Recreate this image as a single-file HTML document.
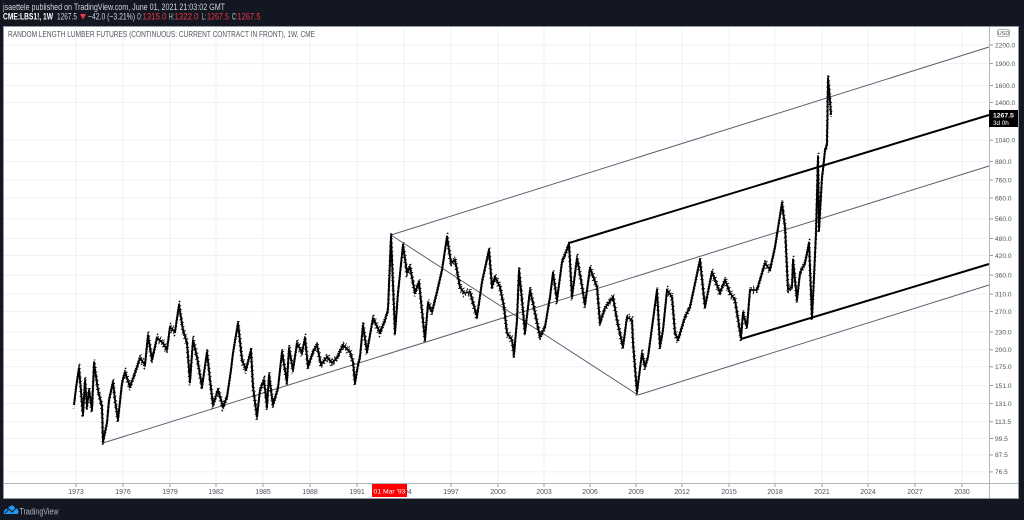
<!DOCTYPE html>
<html><head><meta charset="utf-8"><style>
html,body{margin:0;padding:0;background:#131722;}
svg{display:block;}
text{font-family:"Liberation Sans",sans-serif;}
</style></head><body>
<svg width="1024" height="520" viewBox="0 0 1024 520" xmlns="http://www.w3.org/2000/svg" xmlns:xlink="http://www.w3.org/1999/xlink">
<rect x="0" y="0" width="1024" height="520" fill="#131722"/>
<!-- header -->
<text x="3" y="10" font-size="9" fill="#d1d4dc" textLength="222" lengthAdjust="spacingAndGlyphs">jsaettele published on TradingView.com, June 01, 2021 21:03:02 GMT</text>
<text x="3" y="19.5" font-size="9" font-weight="bold" fill="#ffffff" textLength="50" lengthAdjust="spacingAndGlyphs">CME:LBS1!, 1W</text>
<text x="57" y="19.5" font-size="9" fill="#d1d4dc" textLength="20" lengthAdjust="spacingAndGlyphs">1267.5</text>
<polygon points="80,14 86,14 83,19.5" fill="#f23645"/>
<text x="88" y="19.5" font-size="9" fill="#d1d4dc" textLength="47" lengthAdjust="spacingAndGlyphs">−42.0 (−3.21%)</text>
<text x="137" y="19.5" font-size="9" fill="#d1d4dc" textLength="5" lengthAdjust="spacingAndGlyphs">O:</text>
<text x="142.5" y="19.5" font-size="9" fill="#f23645" textLength="24" lengthAdjust="spacingAndGlyphs">1315.0</text>
<text x="169" y="19.5" font-size="9" fill="#d1d4dc" textLength="5" lengthAdjust="spacingAndGlyphs">H:</text>
<text x="174.5" y="19.5" font-size="9" fill="#f23645" textLength="24" lengthAdjust="spacingAndGlyphs">1322.0</text>
<text x="202" y="19.5" font-size="9" fill="#d1d4dc" textLength="4" lengthAdjust="spacingAndGlyphs">L:</text>
<text x="207" y="19.5" font-size="9" fill="#f23645" textLength="22" lengthAdjust="spacingAndGlyphs">1267.5</text>
<text x="232" y="19.5" font-size="9" fill="#d1d4dc" textLength="5" lengthAdjust="spacingAndGlyphs">C:</text>
<text x="237.5" y="19.5" font-size="9" fill="#f23645" textLength="23" lengthAdjust="spacingAndGlyphs">1267.5</text>

<!-- panel -->
<rect x="3.5" y="26.5" width="1015" height="472" fill="#ffffff" stroke="#9598a1" stroke-width="1"/>

<!-- grid -->
<g stroke="#eef1f7" stroke-width="1">
<line x1="76" y1="27" x2="76" y2="483"/><line x1="123" y1="27" x2="123" y2="483"/><line x1="170" y1="27" x2="170" y2="483"/><line x1="216" y1="27" x2="216" y2="483"/><line x1="263" y1="27" x2="263" y2="483"/><line x1="310" y1="27" x2="310" y2="483"/><line x1="357" y1="27" x2="357" y2="483"/><line x1="404" y1="27" x2="404" y2="483"/><line x1="451" y1="27" x2="451" y2="483"/><line x1="498" y1="27" x2="498" y2="483"/><line x1="544" y1="27" x2="544" y2="483"/><line x1="590" y1="27" x2="590" y2="483"/><line x1="636" y1="27" x2="636" y2="483"/><line x1="682" y1="27" x2="682" y2="483"/><line x1="729" y1="27" x2="729" y2="483"/><line x1="775" y1="27" x2="775" y2="483"/><line x1="822" y1="27" x2="822" y2="483"/><line x1="868" y1="27" x2="868" y2="483"/><line x1="915" y1="27" x2="915" y2="483"/><line x1="962" y1="27" x2="962" y2="483"/>
<line x1="4" y1="45" x2="989" y2="45"/><line x1="4" y1="63.6" x2="989" y2="63.6"/><line x1="4" y1="85.5" x2="989" y2="85.5"/><line x1="4" y1="102.5" x2="989" y2="102.5"/><line x1="4" y1="140.2" x2="989" y2="140.2"/><line x1="4" y1="161.5" x2="989" y2="161.5"/><line x1="4" y1="180.1" x2="989" y2="180.1"/><line x1="4" y1="198" x2="989" y2="198"/><line x1="4" y1="218.9" x2="989" y2="218.9"/><line x1="4" y1="238.5" x2="989" y2="238.5"/><line x1="4" y1="255.5" x2="989" y2="255.5"/><line x1="4" y1="275.1" x2="989" y2="275.1"/><line x1="4" y1="294.1" x2="989" y2="294.1"/><line x1="4" y1="311.6" x2="989" y2="311.6"/><line x1="4" y1="332" x2="989" y2="332"/><line x1="4" y1="349.8" x2="989" y2="349.8"/><line x1="4" y1="366.8" x2="989" y2="366.8"/><line x1="4" y1="385.5" x2="989" y2="385.5"/><line x1="4" y1="403.6" x2="989" y2="403.6"/><line x1="4" y1="421.8" x2="989" y2="421.8"/><line x1="4" y1="438.5" x2="989" y2="438.5"/><line x1="4" y1="454.9" x2="989" y2="454.9"/><line x1="4" y1="471.9" x2="989" y2="471.9"/>
</g>

<!-- title -->
<text x="8" y="37" font-size="8" fill="#50535e" textLength="307" lengthAdjust="spacingAndGlyphs">RANDOM LENGTH LUMBER FUTURES (CONTINUOUS: CURRENT CONTRACT IN FRONT), 1W, CME</text>

<!-- trend lines thin -->
<g stroke="#5d606b" stroke-width="1" fill="none">
<line x1="103" y1="443" x2="989" y2="166"/>
<line x1="391" y1="235" x2="989" y2="47"/>
<line x1="391" y1="235" x2="638" y2="395"/>
<line x1="638" y1="395" x2="989" y2="285"/>
</g>

<!-- price series -->
<g fill="none" stroke="#000" stroke-linejoin="round">
<polyline id="ps" stroke-width="1.8" points="74,405 76,388 79,368 83,415 85,380 87,407 89,390 92,410 94,363 98,390 102,407 103,442 107,423 109,400 113,382 115,400 118,420 122,383 125,372 130,387 135,373 140,358 145,365 148,335 152,360 157,338 163,343 167,350 170,327 175,332 179,305 183,330 187,343 190,382 193,340 197,357 202,387 207,352 210,380 213,405 218,390 223,407 227,397 231,370 233,353 238,323 242,360 246,370 251,350 253,387 257,417 260,390 264,380 267,407 269,375 273,405 278,388 282,352 287,382 289,348 293,370 297,343 302,353 305,338 308,367 313,352 317,345 321,365 327,357 332,363 337,358 343,345 350,352 353,362 355,383 358,365 360,357 363,325 367,352 373,318 380,333 385,320 388,310 391,236 395,333 398,293 403,245 407,273 410,267 415,293 419,282 425,340 428,303 432,312 437,292 442,270 447,237 451,263 455,260 460,287 464,293 470,292 477,317 482,282 489,250 492,287 495,277 500,287 504,307 507,333 512,340 514,355 517,320 519,270 522,300 525,333 530,290 533,303 540,337 545,327 550,297 553,273 557,300 562,262 566,252 569,244 572,297 577,258 581,280 585,305 590,268 597,287 600,323 605,308 613,297 617,320 623,347 627,317 632,320 633,343 637,392 642,353 645,367 648,357 653,320 657,290 660,347 663,330 667,290 672,297 675,333 678,340 685,317 690,307 693,293 700,260 705,307 712,272 720,293 725,280 730,293 735,300 741,338 743,313 747,327 750,290 757,290 760,280 765,263 770,270 775,247 782,203 785,227 788,290 792,287 793,260 797,300 800,273 805,263 809,243 812,318 814,277 816,233 818,157 819,230 822,177 823,170 825,150 827,145 828,78 830,100 831,115"/>
<use xlink:href="#ps" href="#ps" transform="translate(0,-2)" style="stroke-width:1;stroke-dasharray:1 1.6"/>
<use xlink:href="#ps" href="#ps" transform="translate(0,2)" style="stroke-width:1;stroke-dasharray:1.2 2;stroke-dashoffset:1"/>
<use xlink:href="#ps" href="#ps" transform="translate(0.6,-3.5)" style="stroke-width:0.8;stroke-dasharray:0.8 3.5;stroke-dashoffset:2"/>
<use xlink:href="#ps" href="#ps" transform="translate(-0.6,3.5)" style="stroke-width:0.8;stroke-dasharray:0.8 4;stroke-dashoffset:0.5"/>
</g>

<!-- bold lines -->
<g stroke="#000" stroke-width="2" fill="none">
<line x1="569" y1="243" x2="989" y2="115"/>
<line x1="741" y1="339" x2="989" y2="264"/>
</g>

<!-- axes -->
<line x1="4" y1="483.5" x2="1018" y2="483.5" stroke="#b2b5be" stroke-width="1"/>
<line x1="989.5" y1="27" x2="989.5" y2="498" stroke="#b2b5be" stroke-width="1"/>
<rect x="990" y="27" width="28" height="456" fill="#ffffff"/>

<!-- time ticks & labels -->
<g stroke="#9598a1" stroke-width="1">
<line x1="76" y1="484" x2="76" y2="487"/><line x1="123" y1="484" x2="123" y2="487"/><line x1="170" y1="484" x2="170" y2="487"/><line x1="216" y1="484" x2="216" y2="487"/><line x1="263" y1="484" x2="263" y2="487"/><line x1="310" y1="484" x2="310" y2="487"/><line x1="357" y1="484" x2="357" y2="487"/><line x1="451" y1="484" x2="451" y2="487"/><line x1="498" y1="484" x2="498" y2="487"/><line x1="544" y1="484" x2="544" y2="487"/><line x1="590" y1="484" x2="590" y2="487"/><line x1="636" y1="484" x2="636" y2="487"/><line x1="682" y1="484" x2="682" y2="487"/><line x1="729" y1="484" x2="729" y2="487"/><line x1="775" y1="484" x2="775" y2="487"/><line x1="822" y1="484" x2="822" y2="487"/><line x1="868" y1="484" x2="868" y2="487"/><line x1="915" y1="484" x2="915" y2="487"/><line x1="962" y1="484" x2="962" y2="487"/>
</g>
<g font-size="7" fill="#50535e" text-anchor="middle">
<text x="76" y="494">1973</text><text x="123" y="494">1976</text><text x="170" y="494">1979</text><text x="216" y="494">1982</text><text x="263" y="494">1985</text><text x="310" y="494">1988</text><text x="357" y="494">1991</text><text x="404" y="494">1994</text><text x="451" y="494">1997</text><text x="498" y="494">2000</text><text x="544" y="494">2003</text><text x="590" y="494">2006</text><text x="636" y="494">2009</text><text x="682" y="494">2012</text><text x="729" y="494">2015</text><text x="775" y="494">2018</text><text x="822" y="494">2021</text><text x="868" y="494">2024</text><text x="915" y="494">2027</text><text x="962" y="494">2030</text>
</g>
<rect x="372" y="484" width="35" height="13" fill="#ff0000"/>
<text x="389.5" y="493.5" font-size="6.8" fill="#ffffff" text-anchor="middle">01 Mar '93</text>

<!-- price ticks & labels -->
<g stroke="#9598a1" stroke-width="1">
<line x1="990" y1="45" x2="993" y2="45"/><line x1="990" y1="63.6" x2="993" y2="63.6"/><line x1="990" y1="85.5" x2="993" y2="85.5"/><line x1="990" y1="102.5" x2="993" y2="102.5"/><line x1="990" y1="140.2" x2="993" y2="140.2"/><line x1="990" y1="161.5" x2="993" y2="161.5"/><line x1="990" y1="180.1" x2="993" y2="180.1"/><line x1="990" y1="198" x2="993" y2="198"/><line x1="990" y1="218.9" x2="993" y2="218.9"/><line x1="990" y1="238.5" x2="993" y2="238.5"/><line x1="990" y1="255.5" x2="993" y2="255.5"/><line x1="990" y1="275.1" x2="993" y2="275.1"/><line x1="990" y1="294.1" x2="993" y2="294.1"/><line x1="990" y1="311.6" x2="993" y2="311.6"/><line x1="990" y1="332" x2="993" y2="332"/><line x1="990" y1="349.8" x2="993" y2="349.8"/><line x1="990" y1="366.8" x2="993" y2="366.8"/><line x1="990" y1="385.5" x2="993" y2="385.5"/><line x1="990" y1="403.6" x2="993" y2="403.6"/><line x1="990" y1="421.8" x2="993" y2="421.8"/><line x1="990" y1="438.5" x2="993" y2="438.5"/><line x1="990" y1="454.9" x2="993" y2="454.9"/><line x1="990" y1="471.9" x2="993" y2="471.9"/>
</g>
<g font-size="6.6" fill="#50535e">
<text x="995" y="47.3">2200.0</text><text x="995" y="65.9">1900.0</text><text x="995" y="87.8">1600.0</text><text x="995" y="104.8">1400.0</text><text x="995" y="142.5">1040.0</text><text x="995" y="163.8">880.0</text><text x="995" y="182.4">760.0</text><text x="995" y="200.3">660.0</text><text x="995" y="221.2">560.0</text><text x="995" y="240.8">480.0</text><text x="995" y="257.8">420.0</text><text x="995" y="277.4">360.0</text><text x="995" y="296.4">310.0</text><text x="995" y="313.9">270.0</text><text x="995" y="334.3">230.0</text><text x="995" y="352.1">200.0</text><text x="995" y="369.1">175.0</text><text x="995" y="387.8">151.0</text><text x="995" y="405.9">131.0</text><text x="995" y="424.1">113.5</text><text x="995" y="440.8">99.5</text><text x="995" y="457.2">87.5</text><text x="995" y="474.2">76.5</text>
</g>
<rect x="997.5" y="29.5" width="12" height="7" rx="2" fill="#ffffff" stroke="#9598a1" stroke-width="0.8"/>
<text x="1003.5" y="35" font-size="5.5" fill="#50535e" text-anchor="middle">USD</text>

<!-- last price label -->
<rect x="989" y="110" width="29" height="17" fill="#000000"/>
<text x="993" y="117.5" font-size="6.8" font-weight="bold" fill="#ffffff">1267.5</text>
<text x="993" y="125" font-size="6.3" fill="#ffffff">3d 0h</text>

<!-- footer logo -->
<path d="M4,514 C3,510 6,508 8,509 C9,505 14,504 15,508 C18,508 19,511 18,514 Z" fill="#2196f3"/>
<polyline points="5,513 9,509 12,512 16,508" fill="none" stroke="#131722" stroke-width="1"/>
<text x="19.5" y="514.5" font-size="9" fill="#b2b5be" textLength="39" lengthAdjust="spacingAndGlyphs">TradingView</text>
</svg>
</body></html>
